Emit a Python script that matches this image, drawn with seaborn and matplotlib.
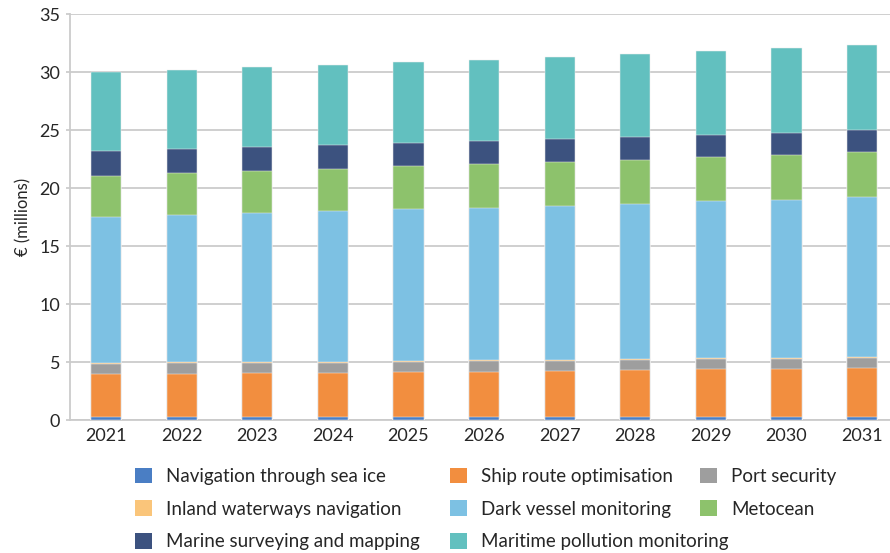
import numpy as np
import pandas as pd
import matplotlib
matplotlib.use("Agg")
import matplotlib.pyplot as plt
from matplotlib.patches import Patch
import seaborn as sns

years = ["2021", "2022", "2023", "2024", "2025", "2026", "2027", "2028", "2029", "2030", "2031"]

sea_ice = [0.22, 0.22, 0.22, 0.22, 0.22, 0.22, 0.23, 0.23, 0.23, 0.24, 0.24]
ship_route = [3.73, 3.78, 3.82, 3.85, 3.91, 3.96, 4.00, 4.08, 4.13, 4.18, 4.23]
port_security = [0.90, 0.90, 0.90, 0.89, 0.89, 0.88, 0.88, 0.87, 0.87, 0.88, 0.90]
inland_waterways = [0.08, 0.08, 0.08, 0.08, 0.08, 0.08, 0.08, 0.08, 0.08, 0.08, 0.08]
dark_vessel = [12.57, 12.72, 12.85, 12.98, 13.08, 13.20, 13.30, 13.42, 13.55, 13.65, 13.80]
metocean = [3.60, 3.62, 3.65, 3.68, 3.70, 3.72, 3.75, 3.78, 3.80, 3.84, 3.88]
marine_surveying = [2.10, 2.08, 2.06, 2.04, 2.02, 2.00, 1.98, 1.96, 1.94, 1.92, 1.90]
pollution = [6.80, 6.82, 6.87, 6.91, 6.98, 7.05, 7.12, 7.18, 7.22, 7.28, 7.35]

series_names = [
    "Navigation through sea ice",
    "Ship route optimisation",
    "Port security",
    "Inland waterways navigation",
    "Dark vessel monitoring",
    "Metocean",
    "Marine surveying and mapping",
    "Maritime pollution monitoring",
]
series_values = [sea_ice, ship_route, port_security, inland_waterways,
                 dark_vessel, metocean, marine_surveying, pollution]
colors = ["#4A7EC4", "#F28E3F", "#9E9E9E", "#FAC57A",
          "#7DC1E3", "#8DC26C", "#3C527F", "#62C0BF"]

sns.set_theme(style="white")
plt.rcParams["font.family"] = ["Lato", "DejaVu Sans"]

fig = plt.figure(figsize=(8.9, 5.53), dpi=100)
ax = fig.add_axes([0.0787, 0.2405, 0.9213, 0.7333])

# Stacked bars: draw cumulative totals from the top series down
cum = np.cumsum(np.array(series_values), axis=0)
for i in range(len(series_names) - 1, -1, -1):
    df = pd.DataFrame({"year": years, "value": cum[i]})
    sns.barplot(data=df, x="year", y="value", color=colors[i], width=0.4,
                saturation=1, edgecolor="#eeeeee", linewidth=0.35, ax=ax, zorder=3)

ax.set_ylim(0, 35)
ax.set_yticks(range(0, 36, 5))
ax.set_xlim(-0.476, 10.37)
ax.yaxis.grid(True, color="#CBCBCB", linewidth=1.3)
ax.set_axisbelow(True)
for side in ["top", "right"]:
    ax.spines[side].set_visible(False)
for side in ["left", "bottom"]:
    ax.spines[side].set_color("#CBCBCB")
    ax.spines[side].set_linewidth(1.3)
ax.tick_params(axis="y", length=3, color="#CBCBCB", labelsize=13, pad=4, left=True)
ax.tick_params(axis="x", length=0, labelsize=13, pad=6)
ax.set_xlabel("")
ax.set_ylabel("€ (millions)", fontsize=12, labelpad=6)

# Legend in three hand-placed columns
columns = [
    ([0, 3, 6], 0.1517),
    ([1, 4, 7], 0.5056),
    ([2, 5], 0.7865),
]
for idx, xpos in columns:
    handles = [Patch(facecolor=colors[k], edgecolor="none") for k in idx]
    labels = [series_names[k] for k in idx]
    fig.legend(handles, labels, loc="upper left", bbox_to_anchor=(xpos, 0.154),
               frameon=False, fontsize=13.5, handlelength=0.9, handleheight=0.9,
               handletextpad=0.75, labelspacing=0.82, borderpad=0, borderaxespad=0)

fig.savefig("out.png", dpi=100)
